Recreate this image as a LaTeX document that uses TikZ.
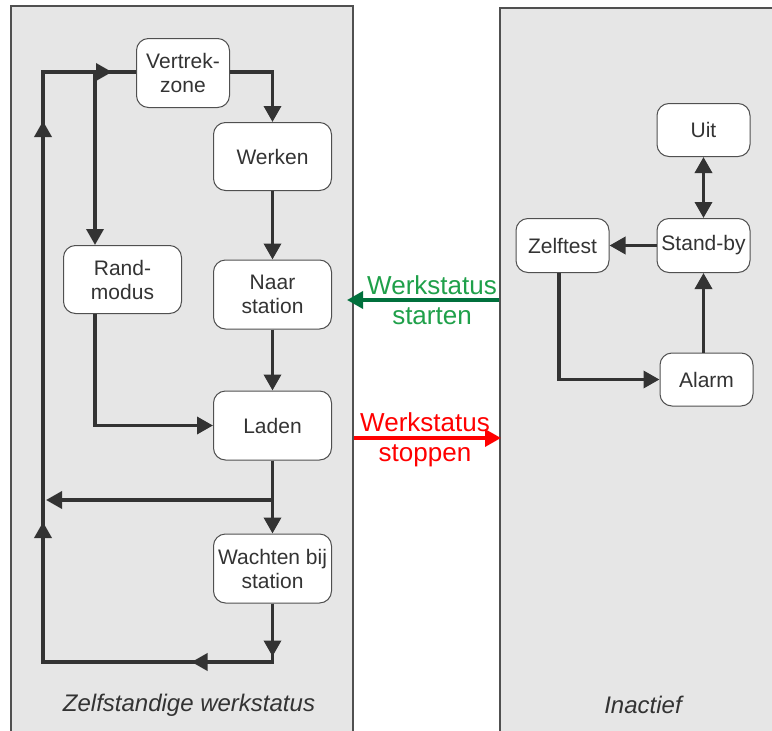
\documentclass[tikz,border=0pt]{standalone}
\usepackage{fontspec}
\setmainfont{Liberation Sans}
\usetikzlibrary{arrows.meta}
\definecolor{panelfill}{HTML}{E6E6E6}
\definecolor{panelline}{HTML}{505050}
\definecolor{ink}{HTML}{333333}
\definecolor{startgreen}{HTML}{00703C}
\definecolor{starttext}{HTML}{1FA04A}
\tikzset{
  panel/.style={draw=panelline,line width=2pt,fill=panelfill,inner sep=0pt},
  state/.style={draw=panelline,line width=1pt,fill=white,rounded corners=12pt,
    align=center,text=ink,inner sep=0pt,font=\fontsize{21}{24}\selectfont},
  flow/.style={draw=ink,line width=3.5pt},
  arr/.style={-{Triangle[length=16pt,width=17pt]}},
  duo/.style={{Triangle[length=16pt,width=17pt]}-{Triangle[length=16pt,width=17pt]}},
  caption/.style={text=ink,font=\fontsize{24}{28}\selectfont\itshape},
  switch/.style={align=center,inner sep=0pt,font=\fontsize{26}{30}\selectfont}
}
\begin{document}
\begin{tikzpicture}[x=1pt, y=-1pt]
\useasboundingbox (0,0) rectangle (772,731);
\fill[white] (0,0) rectangle (772,731);

\node[panel,minimum width=342pt,minimum height=734pt] (auto) at (182,373) {};
\node[panel,minimum width=290pt,minimum height=732pt] (inact) at (645,374) {};
\node[caption] (autolbl) at (189,705) {Zelfstandige werkstatus};
\node[caption] (inactlbl) at (643,705) {Inactief};

% zelfstandige werkstatus
\node[state,minimum width=93pt,minimum height=69pt] (vertrek) at (183,73) {Vertrek-\\zone};
\node[state,minimum width=118pt,minimum height=68pt] (werken) at (272.5,156.5) {Werken};
\node[state,minimum width=118pt,minimum height=68pt] (rand) at (122.5,279.5) {Rand-\\modus};
\node[state,minimum width=118pt,minimum height=69pt] (naar) at (272.5,294.5) {Naar\\station};
\node[state,minimum width=118pt,minimum height=69pt] (laden) at (272.5,425.5) {Laden};
\node[state,minimum width=118pt,minimum height=69pt] (wacht) at (272.5,568.5) {Wachten bij\\station};

\coordinate (tl) at (43,72);
\coordinate (bl) at (43,662);
\coordinate (jn) at (95,72);
\coordinate (br) at (272.5,500);

\draw[flow] (wacht.south) -- (wacht.south |- bl) -- (bl) -- (tl) -- (vertrek.west |- tl);
\draw[flow,arr] (wacht.south) -- ++(0,53);
\draw[flow,arr] (wacht.south |- bl) -- ++(-81,0);
\draw[flow,arr] (bl) -- ++(0,-140);
\draw[flow,arr] (43,300) -- (43,121);
\draw[flow,arr] (tl) -- (112,72);
\draw[flow,arr] (jn) -- (jn |- rand.north);
\draw[flow,arr] (vertrek.east |- tl) -| (werken.north);
\draw[flow,arr] (werken) -- (naar);
\draw[flow,arr] (naar) -- (laden);
\draw[flow,arr] (jn |- rand.south) |- (laden.west);
\draw[flow,arr] (laden) -- (wacht);
\draw[flow,arr] (br) -- (46,500);

% inactief
\node[state,minimum width=93pt,minimum height=53pt] (uit) at (703.5,130) {Uit};
\node[state,minimum width=93pt,minimum height=54pt] (standby) at (703.5,245.5) {Stand-by};
\node[state,minimum width=93pt,minimum height=54pt] (zelftest) at (562.5,245.5) {Zelftest};
\node[state,minimum width=93pt,minimum height=53pt] (alarm) at (706.5,379.5) {Alarm};

\draw[flow,duo] (uit) -- (standby);
\draw[flow,arr] (standby) -- (zelftest);
\draw[flow,arr] (zelftest.south -| 559,0) |- (alarm.west);
\draw[flow,arr] (standby.south |- alarm.north) -- (standby.south);

% overgangen
\draw[startgreen,line width=3.5pt,arr,shorten >=-7pt] (inact.west |- 0,300) -- (auto.east |- 0,300);
\draw[red,line width=3.5pt,arr,shorten >=-2pt] (auto.east |- 0,438) -- (inact.west |- 0,438);
\node[switch,text=starttext] (startlbl) at (432,300.5) {Werkstatus\\starten};
\node[switch,text=red] (stoplbl) at (425,440) {Werkstatus\\stoppen};
\end{tikzpicture}
\end{document}
